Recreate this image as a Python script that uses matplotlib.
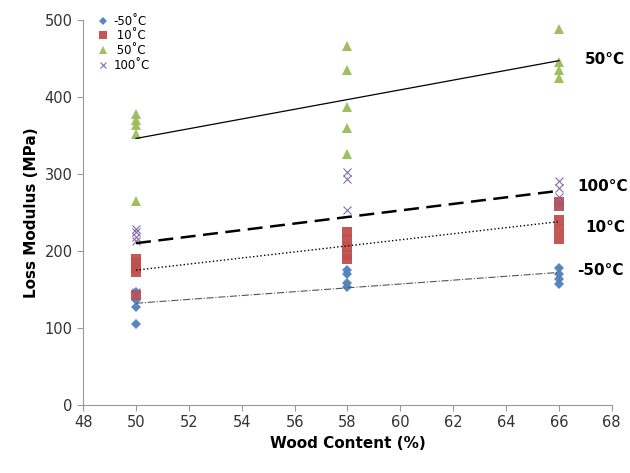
import matplotlib
matplotlib.use("Agg")
import matplotlib.pyplot as plt

# Wood content (%) for each measured point, per temperature
x_m50 = [50, 50, 50, 50, 58, 58, 58, 58, 66, 66, 66, 66]
y_m50 = [146, 136, 127, 105, 175, 170, 158, 153, 178, 170, 163, 157]

x_10 = [50, 50, 50, 50, 50, 58, 58, 58, 58, 58, 66, 66, 66, 66, 66]
y_10 = [190, 185, 178, 172, 143, 225, 215, 205, 195, 190, 264, 258, 240, 228, 216]

x_50 = [50, 50, 50, 50, 50, 58, 58, 58, 58, 58, 66, 66, 66, 66]
y_50 = [378, 370, 363, 352, 265, 466, 435, 387, 360, 326, 488, 445, 435, 425]

x_100 = [50, 50, 50, 50, 50, 58, 58, 58, 66, 66, 66, 66]
y_100 = [229, 224, 218, 213, 147, 303, 293, 253, 291, 282, 270, 258]

# linear trend lines (start/end values at 50 % and 66 %)
trend_x = [50, 66]
trend_m50 = [132, 172]
trend_10 = [175, 238]
trend_50 = [346, 447]
trend_100 = [210, 278]

series = [
    ("-50˚C", x_m50, y_m50, trend_m50, "D", "#4F81BD", 5, dict(color="#555555", ls="-.", lw=0.8)),
    (" 10˚C", x_10, y_10, trend_10, "s", "#C0504D", 7, dict(color="black", ls=":", lw=1.0)),
    (" 50˚C", x_50, y_50, trend_50, "^", "#9BBB59", 7, dict(color="black", ls="-", lw=0.9)),
    ("100˚C", x_100, y_100, trend_100, "x", "#8064A2", 6, dict(color="black", ls=(0, (6, 3)), lw=1.8)),
]

fig = plt.figure(figsize=(6.3, 4.73), dpi=100)
ax = fig.add_axes([0.132, 0.144, 0.839, 0.814])

for label, xs, ys, trend, mk, col, ms, lstyle in series:
    kw = dict(markeredgewidth=0.8) if mk == "x" else dict(markeredgewidth=0)
    ax.plot(xs, ys, mk, color=col, ms=ms, label=label, alpha=0.95, **kw)
    ax.plot(trend_x, trend, **lstyle)

# labels at the right end of each trend line
ax.text(67.0, 448, "50°C", fontsize=11, fontweight="bold", va="center")
ax.text(66.7, 283, "100°C", fontsize=11, fontweight="bold", va="center")
ax.text(67.0, 230, "10°C", fontsize=11, fontweight="bold", va="center")
ax.text(66.7, 175, "-50°C", fontsize=11, fontweight="bold", va="center")

ax.set_xlim(48, 68)
ax.set_ylim(0, 500)
ax.set_xticks(range(48, 69, 2))
ax.set_yticks(range(0, 501, 100))
ax.tick_params(colors="#333333", labelsize=10.5, direction="out", length=4)
for s in ("top", "right"):
    ax.spines[s].set_visible(False)
for s in ("left", "bottom"):
    ax.spines[s].set_color("#999999")
ax.tick_params(axis="both", color="#999999")

ax.set_xlabel("Wood Content (%)", fontsize=11, fontweight="bold")
ax.set_ylabel("Loss Modulus (MPa)", fontsize=11, fontweight="bold")

leg = ax.legend(loc="upper left", bbox_to_anchor=(0.01, 1.035), frameon=False,
                fontsize=8.5, handletextpad=0.4, labelspacing=0.15,
                handlelength=1.0, borderpad=0.2, markerscale=0.8)

fig.savefig("out.png", dpi=100)
